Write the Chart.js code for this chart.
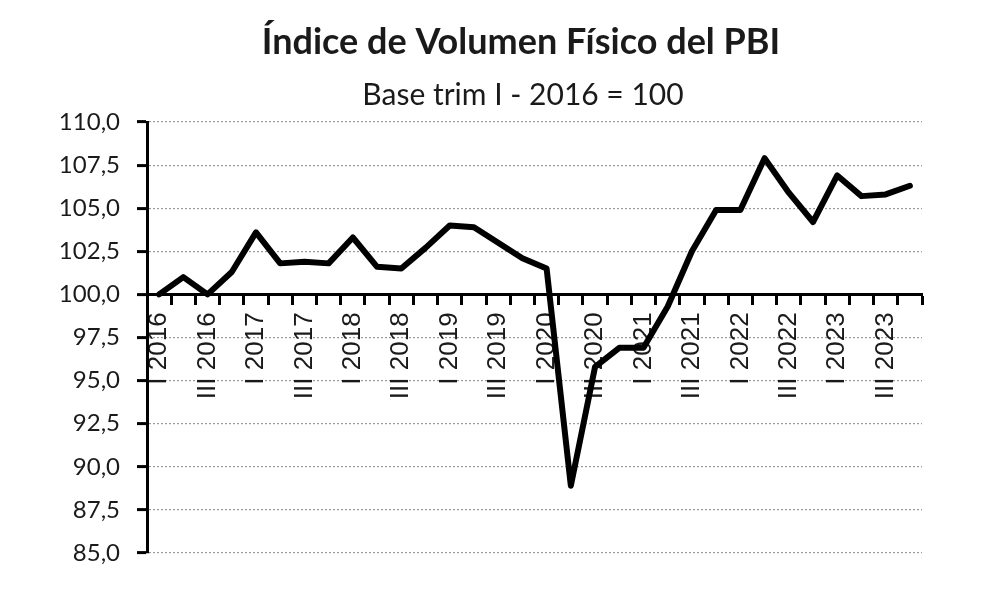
<!DOCTYPE html>
<html>
<head>
<meta charset="utf-8">
<style>
  html, body { margin: 0; padding: 0; background: #fff; }
  #wrap { width: 1000px; height: 606px; }
</style>
<script src="https://cdn.jsdelivr.net/npm/chart.js@4/dist/chart.umd.min.js"></script>
</head>
<body>
<div id="wrap"><canvas id="c" width="1000" height="606"></canvas></div>
<script>
const quarters = ['I', 'II', 'III', 'IV'];
const years = [2016, 2017, 2018, 2019, 2020, 2021, 2022, 2023];
const categories = [];
years.forEach(y => quarters.forEach(q => categories.push(q + ' ' + y)));

const pbiIndex = [
  100.0, 101.0, 100.0, 101.3,
  103.6, 101.8, 101.9, 101.8,
  103.3, 101.6, 101.5, 102.7,
  104.0, 103.9, 103.0, 102.1,
  101.5, 88.9, 95.8, 96.9,
  96.9, 99.3, 102.5, 104.9,
  104.9, 107.9, 105.9, 104.2,
  106.9, 105.7, 105.8, 106.3
];

const yTickValues = [85, 87.5, 90, 92.5, 95, 97.5, 100, 102.5, 105, 107.5, 110];
const titleText = 'Índice de Volumen Físico del PBI';
const subtitleText = 'Base trim I - 2016 = 100';

const headingPlugin = {
  id: 'heading',
  afterDraw(chart) {
    const ctx = chart.ctx;
    ctx.save();
    ctx.fillStyle = '#1a1a1a';
    ctx.textAlign = 'center';
    ctx.textBaseline = 'middle';
    ctx.font = 'bold 36px Lato';
    ctx.fillText(titleText, 521, 42);
    ctx.font = '30px Lato';
    ctx.fillText(subtitleText, 523, 95);
    ctx.restore();
  }
};

new Chart(document.getElementById('c'), {
  type: 'line',
  data: {
    labels: categories,
    datasets: [{
      data: pbiIndex,
      borderColor: '#000',
      borderWidth: 6,
      pointRadius: 0,
      tension: 0,
      fill: false,
      borderJoinStyle: 'round',
      borderCapStyle: 'round'
    }]
  },
  plugins: [headingPlugin],
  options: {
    responsive: false,
    animation: false,
    events: [],
    layout: { padding: { left: 0, right: 78, top: 122, bottom: 53 } },
    plugins: {
      legend: { display: false },
      tooltip: { enabled: false },
      title: { display: false },
      subtitle: { display: false }
    },
    scales: {
      x: {
        type: 'category',
        position: { y: 100 },
        offset: true,
        grid: {
          display: true,
          offset: true,
          drawOnChartArea: false,
          drawTicks: true,
          tickLength: 9,
          tickWidth: 3,
          tickColor: '#000'
        },
        border: { display: true, color: '#000', width: 3 },
        ticks: {
          autoSkip: false,
          maxRotation: 90,
          minRotation: 90,
          padding: 9,
          color: '#1a1a1a',
          font: { family: "'Liberation Sans', Arial, sans-serif", size: 26 },
          callback: function(value, index) {
            return index % 2 === 0 ? categories[index] : '';
          }
        }
      },
      y: {
        min: 85,
        max: 110,
        afterFit: function(scale) { scale.width = 147; },
        afterBuildTicks: function(scale) {
          scale.ticks = yTickValues.map(v => ({ value: v }));
        },
        grid: {
          display: true,
          color: '#9a9a9a',
          lineWidth: 1.2,
          drawTicks: true,
          tickLength: 10,
          tickWidth: 3,
          tickColor: '#000',
          tickBorderDash: []
        },
        border: { display: true, color: '#000', width: 3, dash: [2, 2] },
        ticks: {
          padding: 17,
          color: '#1a1a1a',
          font: { family: 'Lato', size: 24 },
          callback: function(value) {
            return Number(value).toFixed(1).replace('.', ',');
          }
        }
      }
    }
  }
});
</script>
</body>
</html>
